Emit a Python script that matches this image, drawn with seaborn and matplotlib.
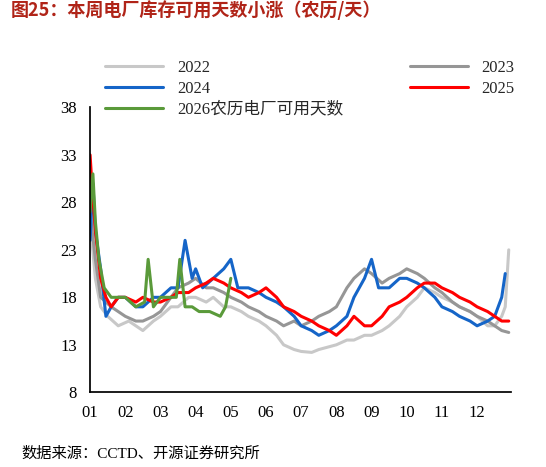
import matplotlib
matplotlib.use("Agg")
import matplotlib.pyplot as plt
import seaborn as sns
import pandas as pd

sns.set_theme(style="white")
plt.rcParams['font.family'] = ['Noto Sans CJK SC', 'DejaVu Sans']
plt.rcParams['axes.unicode_minus'] = False

months = ["01","02","03","04","05","06","07","08","09","10","11","12"]
yticks = [8, 13, 18, 23, 28, 33, 38]

x22 = [1.0,1.15,1.3,1.5,1.8,2.1,2.5,2.8,3.0,3.3,3.5,3.8,4.0,4.3,4.5,4.8,5.0,5.3,5.5,5.8,6.0,6.3,6.5,6.8,7.0,7.3,7.5,7.8,8.0,8.3,8.5,8.8,9.0,9.3,9.5,9.8,10.0,10.3,10.5,10.8,11.0,11.3,11.5,11.8,12.0,12.3,12.5,12.7,12.8,12.9]
v22 = [26,20,17,16,15,15.5,14.5,15.5,16,17,17,18,18,17.5,18,17,17,16.5,16,15.5,15,14,13,12.5,12.3,12.2,12.5,12.8,13,13.5,13.5,14,14,14.5,15,16,17,18,19,18.5,18,17.5,17,16.5,16,15,15,16,17,23]
x23 = [1.0,1.15,1.3,1.6,2.0,2.3,2.5,2.8,3.0,3.3,3.5,3.8,4.0,4.3,4.5,4.8,5.0,5.3,5.5,5.8,6.0,6.3,6.5,6.8,7.0,7.3,7.5,7.8,8.0,8.3,8.5,8.8,9.0,9.3,9.5,9.8,10.0,10.3,10.5,10.8,11.0,11.3,11.5,11.8,12.0,12.3,12.5,12.7,12.9]
v23 = [27,22,18,17,16,15.5,15.5,16,16.5,18,19,19.5,20,19,19,18.5,18,17.5,17,16.5,16,15.5,15,15.5,15,15.5,16,16.5,17,19,20,21,20.5,19.5,20,20.5,21,20.5,20,19,18.5,17.5,17,16.5,16,15.5,15,14.5,14.3]
x24 = [1.0,1.08,1.15,1.3,1.45,1.6,1.8,2.0,2.3,2.5,2.8,3.0,3.3,3.5,3.7,3.9,4.0,4.2,4.5,4.8,5.0,5.2,5.5,5.8,6.0,6.3,6.5,6.8,7.0,7.3,7.5,7.8,8.0,8.3,8.5,8.8,9.0,9.2,9.5,9.8,10.0,10.3,10.5,10.8,11.0,11.3,11.5,11.8,12.0,12.3,12.5,12.7,12.8]
v24 = [24,30,25,21,16,17,18,18,17,17,18,18,19,19,24,20,21,19,20,21,22,19,19,18.5,18,17.5,17,16,15,14.5,14,14.5,15,16,18,20,22,19,19,20,20,19.5,19,18,17,16.5,16,15.5,15,15.5,16,18,20.5]
x25 = [1.0,1.05,1.15,1.3,1.45,1.6,1.8,2.0,2.3,2.5,2.8,3.0,3.3,3.5,3.8,4.0,4.3,4.5,4.8,5.0,5.3,5.5,5.8,6.0,6.3,6.5,6.8,7.0,7.3,7.5,7.8,8.0,8.3,8.5,8.8,9.0,9.3,9.5,9.8,10.0,10.3,10.5,10.8,11.0,11.3,11.5,11.8,12.0,12.3,12.5,12.7,12.9]
v25 = [33,30,25,20,18,17,18,18,17.5,18,17.5,17.5,18,18.5,18.5,19,19.5,20,19.5,19,18.5,18,18.5,19,18,17,16.5,16,15.5,15,14.5,14,15,16,15,15,16,17,17.5,18,19,19.5,19.5,19,18.5,18,17.5,17,16.5,16,15.5,15.5]
x26 = [1.0,1.08,1.15,1.25,1.4,1.6,1.8,2.0,2.3,2.55,2.65,2.8,3.0,3.2,3.45,3.55,3.7,3.9,4.1,4.4,4.7,4.85,5.0]
v26 = [27,31,26,22,19,18,18,18,17,17.5,22,17,18,18,18,22,17,17,16.5,16.5,16,17,20]

fig, ax = plt.subplots(figsize=(5.46, 4.67), dpi=100)
series = [("2022", x22, v22, "#c8c8c8"), ("2023", x23, v23, "#969696"),
          ("2024", x24, v24, "#1565c8"), ("2025", x25, v25, "#ff0000"),
          ("2026农历电厂可用天数", x26, v26, "#5a9a3a")]
for name, xs, vs, c in series:
    df = pd.DataFrame({"x": xs, "y": vs})
    sns.lineplot(data=df, x="x", y="y", ax=ax, color=c, lw=2.2, label=name)

ax.set_xlim(1.0, 12.95)
ax.set_ylim(8, 38)
ax.set_yticks(yticks)
ax.set_xticks(range(1, 13))
ax.set_xticklabels(months)
ax.set_xlabel(""); ax.set_ylabel("")
for s in ["top", "right"]:
    ax.spines[s].set_visible(False)
for s in ["left", "bottom"]:
    ax.spines[s].set_color("black")
ax.tick_params(labelsize=12, colors="black")
for t in ax.get_xticklabels() + ax.get_yticklabels():
    t.set_fontfamily(["Liberation Serif", "DejaVu Serif"])
h, l = ax.get_legend_handles_labels()
order = [0, 2, 4, 1, 3]
leg = ax.legend([h[i] for i in order], [l[i] for i in order], loc="upper left", ncol=2,
                frameon=False, bbox_to_anchor=(0.0, 1.22), fontsize=12,
                handlelength=3.5, columnspacing=4, labelspacing=0.3)
for t in leg.get_texts():
    t.set_fontfamily(["Liberation Serif", "Noto Sans CJK SC"])

fig.text(0.02, 0.965, "图25：本周电厂库存可用天数小涨（农历/天）", fontsize=13,
         fontweight="bold", color="#b02418")
fig.text(0.04, 0.02, "数据来源：CCTD、开源证券研究所", fontsize=11, color="black",
         family=["Liberation Serif", "Noto Sans CJK SC"])
fig.subplots_adjust(left=0.165, right=0.935, top=0.77, bottom=0.16)
fig.savefig("out.png", dpi=100)
